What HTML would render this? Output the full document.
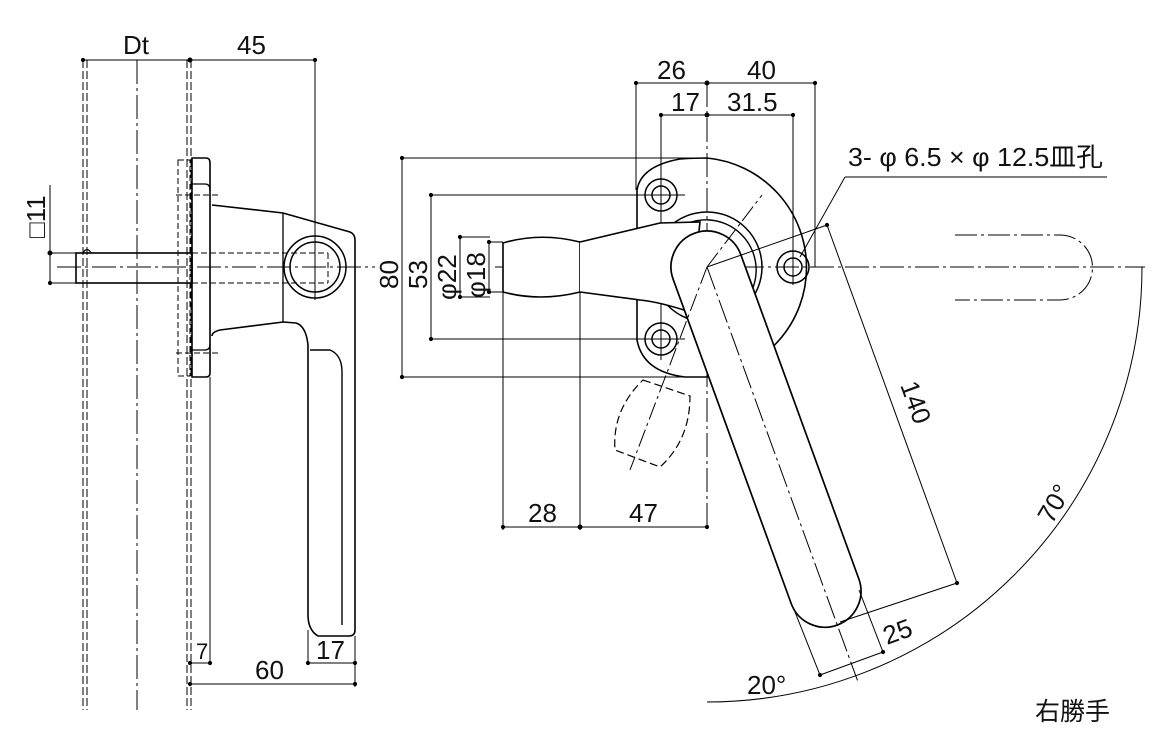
<!DOCTYPE html>
<html><head><meta charset="utf-8"><style>
html,body{margin:0;padding:0;background:#fff;}
svg{display:block;}
text{font-family:"Liberation Sans","Noto Sans CJK JP",sans-serif;fill:#111;}
</style></head><body>
<svg width="1175" height="738" viewBox="0 0 1175 738" xmlns="http://www.w3.org/2000/svg">
<defs>
<marker id="d" viewBox="0 0 6 6" refX="3" refY="3" markerWidth="5" markerHeight="5"><circle cx="3" cy="3" r="2.5" fill="#000"/></marker>
</defs>
<g fill="none" stroke="#000" stroke-width="1">
<!-- LEFT VIEW: door lines -->
<line x1="83" y1="60" x2="83" y2="710" stroke-dasharray="8 3"/>
<line x1="87" y1="60" x2="87" y2="710" stroke-dasharray="8 3"/>
<line x1="137" y1="60" x2="137" y2="710" stroke-dasharray="24 4 3 4"/>
<line x1="187" y1="60" x2="187" y2="710" stroke-dasharray="8 3"/>
<line x1="191" y1="60" x2="191" y2="710" stroke-dasharray="8 3"/>
<!-- Dt / 45 -->
<line x1="83" y1="60" x2="315" y2="60" marker-start="url(#d)" marker-end="url(#d)"/>
<circle cx="190" cy="60" r="2" fill="#000"/>
<line x1="315" y1="60" x2="315" y2="300"/>
<!-- dashed plate -->
<rect x="178" y="160" width="12" height="216" stroke-dasharray="6 3"/>
<line x1="176" y1="195" x2="220" y2="195" stroke-dasharray="6 3"/>
<line x1="176" y1="353" x2="220" y2="353" stroke-dasharray="6 3"/>
<!-- base plate -->
<path d="M192 158 L206 158 Q210 158 210 163 L210 373 Q210 377 206 377 L192 377 Z" stroke-width="1.6"/>
<path d="M192 184 L205 184 Q210 184 210 190" stroke-width="1.3"/>
<path d="M192 350 L205 350 Q210 350 210 344" stroke-width="1.3"/>
<!-- shaft -->
<rect x="76" y="253" width="116" height="30" stroke-width="1.6"/>
<path d="M83 253 Q87 246 91 253" stroke-width="1.2"/>
<line x1="192" y1="253" x2="328" y2="253" stroke-dasharray="6 3"/>
<line x1="192" y1="283" x2="328" y2="283" stroke-dasharray="6 3"/>
<line x1="328" y1="253" x2="328" y2="283" stroke-dasharray="6 3"/>
<line x1="57" y1="267" x2="375" y2="267" stroke-dasharray="24 4 3 4"/>
<!-- body -->
<path d="M212 205 L283 213 L350 232 Q355 234 355 240 L355 630 Q355 636 349 636 L318 636 Q308 630 308 615 L308 345 Q306 326 296 323 L283 322 L220 330 Q212 332 212 336" stroke-width="1.6"/>
<line x1="283" y1="213" x2="283" y2="322" stroke-width="1.3"/>
<path d="M310 350 L330 350 Q342 355 342 372 L342 625" stroke-width="1.4"/>
<circle cx="315" cy="267" r="31" stroke-width="1.5"/>
<circle cx="315" cy="267" r="25" stroke-width="1.5"/>
<!-- □11 -->
<line x1="50" y1="185" x2="50" y2="283" marker-end="url(#d)"/>
<circle cx="50" cy="253" r="2" fill="#000"/>
<line x1="50" y1="253" x2="76" y2="253"/><line x1="50" y1="283" x2="76" y2="283"/>
<!-- bottom dims left -->
<line x1="210" y1="377" x2="210" y2="665"/>
<line x1="355" y1="636" x2="355" y2="687"/>
<line x1="308" y1="630" x2="308" y2="665"/>
<line x1="190" y1="663" x2="210" y2="663" marker-start="url(#d)" marker-end="url(#d)"/>
<line x1="308" y1="663" x2="355" y2="663" marker-start="url(#d)" marker-end="url(#d)"/>
<line x1="190" y1="684" x2="355" y2="684" marker-start="url(#d)" marker-end="url(#d)"/>

<!-- RIGHT VIEW dims -->
<line x1="636" y1="83" x2="815" y2="83" marker-start="url(#d)" marker-end="url(#d)"/>
<circle cx="707" cy="83" r="2" fill="#000"/>
<line x1="661" y1="115" x2="793" y2="115" marker-start="url(#d)" marker-end="url(#d)"/>
<circle cx="707" cy="115" r="2" fill="#000"/>
<line x1="636" y1="83" x2="636" y2="190"/>
<line x1="815" y1="83" x2="815" y2="267"/>
<line x1="661" y1="115" x2="661" y2="360"/>
<line x1="793" y1="115" x2="793" y2="285"/>
<line x1="707" y1="83" x2="707" y2="530" stroke-dasharray="24 4 3 4"/>
<line x1="402" y1="158" x2="707" y2="158" marker-start="url(#d)"/>
<line x1="402" y1="377" x2="707" y2="377" marker-start="url(#d)"/>
<line x1="402" y1="158" x2="402" y2="377"/>
<line x1="431" y1="195" x2="680" y2="195" marker-start="url(#d)"/>
<line x1="431" y1="339" x2="680" y2="339" marker-start="url(#d)"/>
<line x1="431" y1="195" x2="431" y2="339"/>
<line x1="460" y1="237" x2="490" y2="237" marker-start="url(#d)"/>
<line x1="460" y1="297" x2="490" y2="297" marker-start="url(#d)"/>
<line x1="460" y1="237" x2="460" y2="297"/>
<line x1="489" y1="242" x2="503" y2="242" marker-start="url(#d)"/>
<line x1="489" y1="292" x2="503" y2="292" marker-start="url(#d)"/>
<line x1="489" y1="242" x2="489" y2="292"/>
<line x1="495" y1="267" x2="1145" y2="267" stroke-dasharray="24 4 3 4"/>
<line x1="503" y1="292" x2="503" y2="530"/>
<line x1="580" y1="292" x2="580" y2="530"/>
<line x1="503" y1="527" x2="707" y2="527" marker-start="url(#d)" marker-end="url(#d)"/>
<circle cx="580" cy="527" r="2" fill="#000"/>

<!-- flange -->
<path d="M707 158 A110 110 0 0 1 707 377 L685 377 Q643 372 637 340 L637 190 Q641 166 680 159 Q695 158 707 158 Z" stroke-width="1.6"/>
<circle cx="707" cy="267" r="55" stroke-width="1.5"/>
<path d="M660 250 A47 47 0 0 1 752 290" stroke-width="1.4"/>
<circle cx="661" cy="195" r="16" stroke-width="1.5"/><circle cx="661" cy="195" r="9" stroke-width="1.5"/>
<circle cx="661" cy="339" r="16" stroke-width="1.5"/><circle cx="661" cy="339" r="9" stroke-width="1.5"/>
<circle cx="793" cy="267" r="16" stroke-width="1.5"/><circle cx="793" cy="267" r="9" stroke-width="1.5"/>
<line x1="640" y1="195" x2="688" y2="195" stroke-dasharray="18 3 3 3"/>
<line x1="640" y1="339" x2="688" y2="339" stroke-dasharray="18 3 3 3"/>
<!-- knob & arm -->
<path d="M503 243 Q540 232 580 242 L580 292 Q540 302 503 292 Z" fill="#fff" stroke-width="1.6"/>
<path d="M580 242 L660 223 L700 222 L690 312 Q660 302 640 300 L580 292" fill="#fff" stroke-width="1.6"/>
<!-- lever -->
<g transform="translate(707,267) rotate(-20)">
<path d="M-36 0 A36 36 0 0 1 36 0 L36 345 A36 36 0 0 1 -36 345 Z" fill="#fff" stroke-width="1.7"/>
<line x1="0" y1="0" x2="0" y2="440" stroke-dasharray="24 4 3 4"/>
</g>
<line x1="707" y1="267" x2="762" y2="195" stroke-dasharray="18 4 3 4"/>
<line x1="707" y1="267" x2="630" y2="470" stroke-dasharray="18 4 3 4"/>
<!-- ghost handle -->
<path d="M643 380 L690 396 Q690 440 660 467 L615 450 Q612 410 643 380 Z" stroke-dasharray="8 4" stroke-width="1.2"/>
<!-- leader -->
<line x1="845" y1="177" x2="1107" y2="177"/>
<line x1="845" y1="177" x2="800" y2="257"/>
<line x1="707" y1="267" x2="827" y2="225"/>
<!-- 140 dim -->
<line x1="827" y1="225" x2="957" y2="583" marker-start="url(#d)" marker-end="url(#d)"/>
<line x1="840" y1="622" x2="957" y2="583"/>
<line x1="820" y1="675" x2="883" y2="652" marker-start="url(#d)" marker-end="url(#d)"/>
<line x1="795" y1="612" x2="820" y2="675"/>
<line x1="859" y1="590" x2="883" y2="652"/>
<!-- arc -->
<path d="M707 702 A435 435 0 0 0 1142 267" />
<!-- open position ghost -->
<path d="M955 235 L1060 235 A32 32 0 0 1 1060 300 L955 300" stroke-dasharray="22 4 3 4"/>
</g>
<g font-size="26">
<text x="123" y="54">Dt</text>
<text x="237" y="54">45</text>
<text x="657" y="79">26</text>
<text x="747" y="79">40</text>
<text x="671" y="111">17</text>
<text x="727" y="111">31.5</text>
<text x="848" y="166" textLength="255" lengthAdjust="spacingAndGlyphs">3- φ 6.5 × φ 12.5皿孔</text>
<text x="528" y="522">28</text>
<text x="629" y="522">47</text>
<text x="196" y="659" font-size="22">7</text>
<text x="316" y="659">17</text>
<text x="255" y="679">60</text>
<text x="747" y="694">20°</text>
<text x="1035" y="720" font-size="25">右勝手</text>
<text transform="translate(45,238) rotate(-90)">□11</text>
<text transform="translate(398,289) rotate(-90)">80</text>
<text transform="translate(427,289) rotate(-90)">53</text>
<text transform="translate(456,300) rotate(-90)">φ22</text>
<text transform="translate(485,298) rotate(-90)">φ18</text>
<text transform="translate(900,385) rotate(70)">140</text>
<text transform="translate(887,645) rotate(-20)">25</text>
<text transform="translate(1052,525) rotate(-60)">70°</text>
</g>
</svg>
</body></html>
